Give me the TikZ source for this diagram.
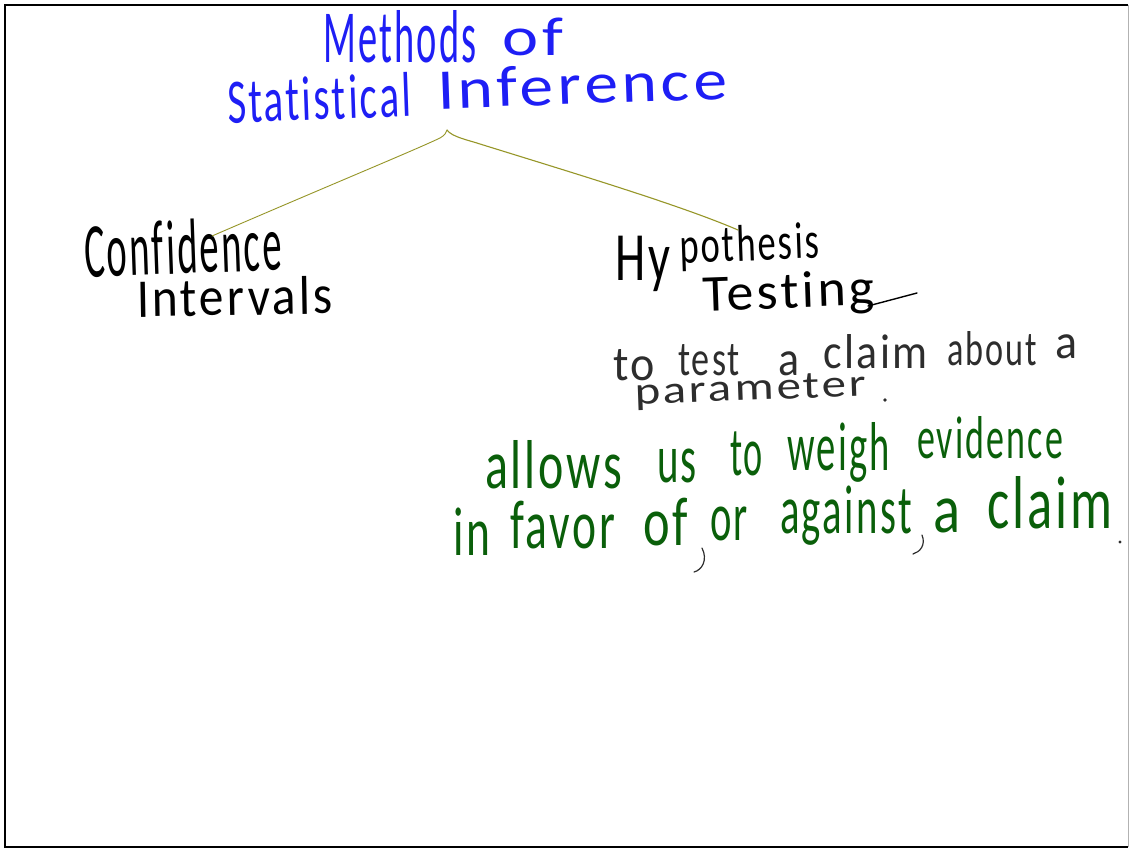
\documentclass[tikz,border=0pt]{standalone}
\usepackage{fontspec}
\setmainfont{Carlito}[Ligatures=NoCommon, LetterSpace=6]
\usepackage{graphicx}
\definecolor{hblue}{RGB}{30,30,245}
\definecolor{hgreen}{RGB}{10,95,10}
\definecolor{hgray}{RGB}{45,45,45}
\definecolor{holive}{RGB}{150,150,40}
\newcommand\hw[3]{\resizebox{#1pt}{#2pt}{\vphantom{Ml}#3}}
\tikzset{
  hand/.style={anchor=base west, inner sep=0pt, outer sep=0pt},
  link/.style={holive, line width=1.1pt, line cap=round},
  frame/.style={black, line width=2.5pt},
  pen/.style={line cap=round, line width=1.2pt}
}
\begin{document}
\begin{tikzpicture}[x=1pt,y=-1pt]
\useasboundingbox (0,0) rectangle (1129,849);
\fill[white] (0,0) rectangle (1129,849);
\draw[frame] (1128,5) -- (5,5) -- (5,847) -- (1128,847);
\draw[gray!60, line width=1pt] (1128,5) -- (1128,847);

% title
\node[hand, hblue] (m1a) at (323,62) {\hw{154}{52}{Methods}};
\node[hand, hblue] (m1b) at (502,55) {\hw{61}{38}{of}};
\node[hand, hblue, rotate=2] (m2a) at (228,123) {\hw{184}{44}{Statistical}};
\node[hand, hblue, rotate=2] (m2b) at (438,109) {\hw{290}{40}{Inference}};

% branches
\node[hand, rotate=2] (ci1) at (85,277) {\hw{198}{54}{Confidence}};
\node[hand, rotate=1] (ci2) at (137,317) {\hw{196}{38}{Intervals}};
\node[hand] (ht1a) at (615,280) {\hw{55}{48}{Hy}};
\node[hand, rotate=2] (ht1b) at (680,263) {\hw{140}{36}{pothesis}};
\node[hand, rotate=2] (ht2) at (703,311) {\hw{172}{36}{Testing}};
\coordinate (gs) at (868,306);
\coordinate (ge) at (917,293);
\draw[black, line width=1.4pt, line cap=round] (gs) -- (ge);

% connectors
\coordinate (apex) at (447,130);
\coordinate (ciTop) at (212,236);
\coordinate (htTop) at (738,230);
\draw[link, line width=0.9pt] (ciTop) .. controls (330,185) and (415,150) .. (440,138) .. controls (445,135) and (446,133) .. (apex);
\draw[link] (apex) .. controls (452,137) and (468,140) .. (480,144) .. controls (570,172) and (680,205) .. (htTop);

% grey description
\node[hand, hgray] (d1) at (613,380) {\hw{42}{34}{to}};
\node[hand, hgray] (d2) at (678,375) {\hw{62}{34}{test}};
\node[hand, hgray] (d3) at (778,375) {\hw{21}{34}{a}};
\node[hand, hgray] (d4) at (823,368) {\hw{105}{34}{claim}};
\node[hand, hgray] (d5) at (947,365) {\hw{90}{34}{about}};
\node[hand, hgray] (d6) at (1055,358) {\hw{22}{34}{a}};
\node[hand, hgray, rotate=2] (d7) at (635,404) {\hw{232}{27}{parameter}};
\fill[hgray] (885,400) circle (1.8pt);

% green statement
\node[hand, hgreen] (g1) at (485,488) {\hw{137}{48}{allows}};
\node[hand, hgreen] (g2) at (657,482) {\hw{40}{48}{us}};
\node[hand, hgreen] (g3) at (730,475) {\hw{33}{48}{to}};
\node[hand, hgreen] (g4) at (787,470) {\hw{103}{48}{weigh}};
\node[hand, hgreen] (g5) at (917,458) {\hw{146}{42}{evidence}};
\node[hand, hgreen] (h1) at (453,555) {\hw{37}{48}{in}};
\node[hand, hgreen] (h2) at (510,548) {\hw{105}{48}{favor}};
\node[hand, hgreen] (h3) at (643,545) {\hw{45}{48}{of}};
\node[hand, hgreen] (h4) at (710,540) {\hw{38}{48}{or}};
\node[hand, hgreen] (h5) at (780,533) {\hw{132}{48}{against}};
\node[hand, hgreen] (h6) at (933,532) {\hw{27}{48}{a}};
\node[hand, hgreen] (h7) at (987,528) {\hw{126}{52}{claim}};
\coordinate (c1a) at (702,548);
\coordinate (c1b) at (694,572);
\coordinate (c2a) at (922,535);
\coordinate (c2b) at (913,554);
\draw[pen, hgray] (c1a) .. controls (708,560) and (702,570) .. (c1b);
\draw[pen, hgray] (c2a) .. controls (926,545) and (920,552) .. (c2b);
\fill[hgray] (1120,542) circle (1.6pt);
\end{tikzpicture}
\end{document}
